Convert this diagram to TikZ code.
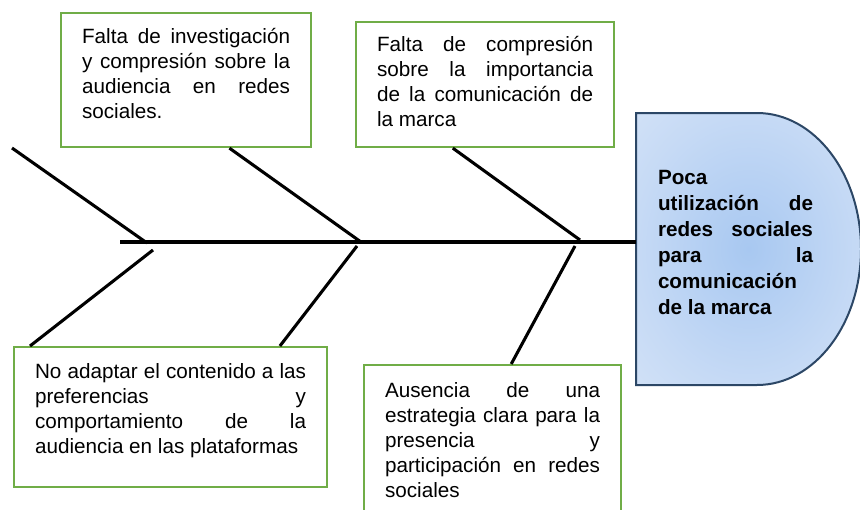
\documentclass[tikz,border=0pt]{standalone}
\usepackage{fontspec}
\setmainfont{Liberation Sans}
\usetikzlibrary{calc}
\definecolor{verde}{HTML}{70AD47}
\definecolor{bordeazul}{HTML}{2C4766}
\definecolor{azulcentro}{HTML}{A8C8F1}
\definecolor{azulmedio}{HTML}{C6DAF5}
\definecolor{azulborde}{HTML}{DFEAF9}
\pgfdeclareradialshading{sombracabeza}{\pgfpoint{0bp}{0bp}}{color(0bp)=(azulcentro); color(25bp)=(azulmedio); color(50bp)=(azulborde); color(72bp)=(azulborde)}
\newcommand{\hueco}[1]{\par\kern#1\hrule height 0pt}

\begin{document}
\begin{tikzpicture}[
  x=0.75pt, y=-0.75pt,
  causa/.style={rectangle, draw=verde, line width=1.6pt, anchor=north west, align=justify, inner xsep=15.75pt, font=\fontsize{15.5}{18.75}\selectfont},
  cabeza/.style={align=justify, text width=116.25pt, inner sep=0pt, font=\fontsize{15.5}{19.5}\selectfont\bfseries},
  espina/.style={line width=2.3pt},
  eje/.style={line width=2.8pt}
]
\useasboundingbox (0,0) rectangle (860,510);

% causas
\node[causa, text width=156pt, minimum height=100.5pt] (c1) at (60,12) {Falta de investigación\linebreak y compresión sobre la\linebreak audiencia en redes\linebreak sociales.\hueco{10.5pt}};
\node[causa, text width=162pt, minimum height=93.75pt] (c2) at (355,21) {Falta de compresión\linebreak sobre la importancia\linebreak de la comunicación de\linebreak la marca\hueco{4.5pt}};
\node[causa, text width=203.25pt, minimum height=105pt] (c3) at (13,346) {No adaptar el contenido a las\linebreak preferencias y\linebreak comportamiento de la\linebreak audiencia en las plataformas\hueco{9pt}};
\node[causa, text width=161.25pt, minimum height=112.5pt] (c4) at (363,364) {Ausencia de una\linebreak estrategia clara para la\linebreak presencia y\linebreak participación en redes\linebreak sociales};

% cabeza
\shadedraw[draw=bordeazul, line width=1.5pt, shading=sombracabeza]
  (636,113) -- (757,113) arc[start angle=-90, end angle=90, x radius=104, y radius=136] -- (636,385) -- cycle;
\node[cabeza] (efecto) at (735.5,242) {Poca\newline utilización de\linebreak redes sociales\linebreak para la\linebreak comunicación\newline de la marca};

% espina
\coordinate (cola) at (120,242);
\coordinate (cab) at (636,242);
\coordinate (libre) at (12,148);
\coordinate (j1) at (147,243);
\coordinate (j1b) at (153,250);
\coordinate (j2) at (361,242);
\coordinate (j2b) at (357,246);
\coordinate (j3) at (580,240);
\coordinate (j3b) at (575,246);
\draw[eje] (cola) -- (cab);
\draw[espina] (libre) -- (j1);
\draw[espina] (j1b) -- ($(c3.north west)!0.054!(c3.north east)$);
\draw[espina] ($(c1.south west)!0.672!(c1.south east)$) -- (j2);
\draw[espina] (j2b) -- ($(c3.north west)!0.847!(c3.north east)$);
\draw[espina] ($(c2.south west)!0.376!(c2.south east)$) -- (j3);
\draw[espina] (j3b) -- ($(c4.north west)!0.572!(c4.north east)$);
\end{tikzpicture}
\end{document}
